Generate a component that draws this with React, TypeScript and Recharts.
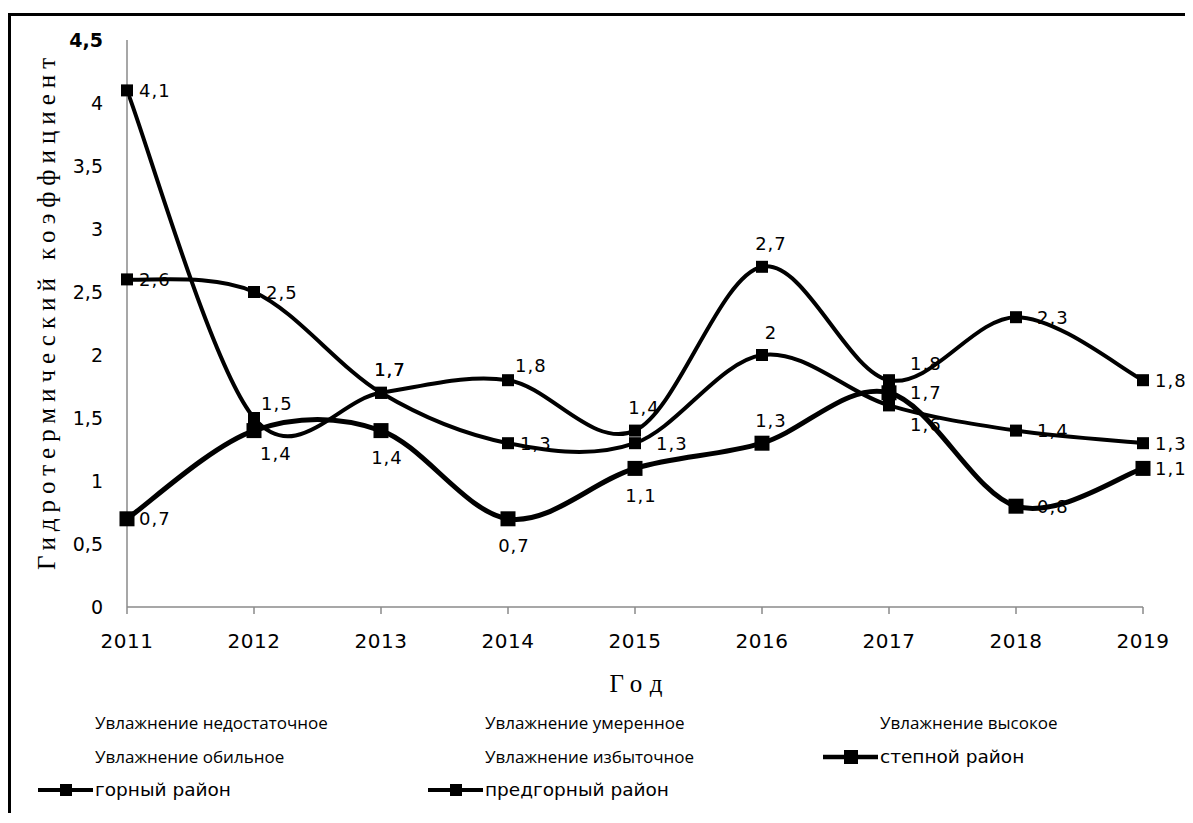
import React from 'react';
import { LineChart, Line, XAxis, YAxis, LabelList, Label } from 'recharts';

const years = ['2011', '2012', '2013', '2014', '2015', '2016', '2017', '2018', '2019'];
const gorny = [4.1, 1.5, 1.7, 1.8, 1.4, 2.7, 1.8, 2.3, 1.8];
const predgorny = [2.6, 2.5, 1.7, 1.3, 1.3, 2.0, 1.6, 1.4, 1.3];
const stepnoy = [0.7, 1.4, 1.4, 0.7, 1.1, 1.3, 1.7, 0.8, 1.1];
const yTicks = [0, 0.5, 1, 1.5, 2, 2.5, 3, 3.5, 4, 4.5];
const moistureNames = [
  'Увлажнение недостаточное',
  'Увлажнение умеренное',
  'Увлажнение высокое',
  'Увлажнение обильное',
  'Увлажнение избыточное',
];
const seriesNames = { stepnoy: 'степной район', gorny: 'горный район', predgorny: 'предгорный район' };
const yTitle = 'Гидротермический коэффициент';
const xTitle = 'Год';

// label placement keys (style only)
const gornyLabelPos = ['right', 'upRight', 'top', 'upRight', 'top', 'top', 'farUpRight', 'farRight', 'right'];
const predgornyLabelPos = ['right', 'right', 'top', 'right', 'farRight', 'top', 'farDownRight', 'farRight', 'right'];
const stepnoyLabelPos = ['right', 'downRight', 'bottom', 'bottom', 'bottom', 'top', 'farRight', 'farRight', 'right'];

const chartData = years.map((y, i) => ({ year: y, gorny: gorny[i], predgorny: predgorny[i], stepnoy: stepnoy[i] }));

const FONT = '"Open Sans", "Liberation Sans", sans-serif';
const WIDE = '"DejaVu Sans", "Open Sans", sans-serif';
const SERIF = '"Liberation Serif", "DejaVu Serif", serif';
const AXIS_GRAY = '#8a8a8a';

const placements: Record<string, { anchor: string; dx: number; dy: number }> = {
  right: { anchor: 'start', dx: 12, dy: 0 },
  farRight: { anchor: 'start', dx: 21, dy: 0 },
  upRight: { anchor: 'start', dx: 7, dy: -15 },
  farUpRight: { anchor: 'start', dx: 21, dy: -17 },
  downRight: { anchor: 'start', dx: 6, dy: 23 },
  farDownRight: { anchor: 'start', dx: 21, dy: 19 },
  top: { anchor: 'middle', dx: 9, dy: -23 },
  bottom: { anchor: 'middle', dx: 6, dy: 27 },
};

function excelSmooth(context: any) {
  let pts: number[][] = [];
  return {
    areaStart() {},
    areaEnd() {},
    lineStart() {
      pts = [];
    },
    point(x: number, y: number) {
      pts.push([+x, +y]);
    },
    lineEnd() {
      const n = pts.length;
      if (!n) return;
      context.moveTo(pts[0][0], pts[0][1]);
      if (n === 2) {
        context.lineTo(pts[1][0], pts[1][1]);
        return;
      }
      for (let i = 0; i < n - 1; i++) {
        const p0 = pts[Math.max(i - 1, 0)];
        const p1 = pts[i];
        const p2 = pts[i + 1];
        const p3 = pts[Math.min(i + 2, n - 1)];
        context.bezierCurveTo(
          p1[0] + (p2[0] - p0[0]) / 6,
          p1[1] + (p2[1] - p0[1]) / 6,
          p2[0] - (p3[0] - p1[0]) / 6,
          p2[1] - (p3[1] - p1[1]) / 6,
          p2[0],
          p2[1]
        );
      }
    },
  };
}

const fmt = (v: number) => String(v).replace('.', ',');

const makeLabel = (pos: string[]) => (props: any) => {
  const { x, y, value, index } = props;
  const p = placements[pos[index]] || placements.right;
  return (
    <text
      key={`l-${index}`}
      x={x + p.dx}
      y={y + p.dy}
      textAnchor={p.anchor as any}
      dominantBaseline="central"
      fontFamily={WIDE}
      fontSize={18}
      letterSpacing={1}
      fill="#000"
    >
      {fmt(value)}
    </text>
  );
};

const makeDot = (size: number) => (props: any) => {
  const { cx, cy, index } = props;
  return <rect key={`d-${index}`} x={cx - size / 2} y={cy - size / 2} width={size} height={size} fill="#000" />;
};

const YTick = (props: any) => {
  const { x, y, payload } = props;
  return (
    <text
      x={x}
      y={y}
      textAnchor="end"
      dominantBaseline="central"
      fontFamily={WIDE}
      fontSize={19}
      fontWeight={payload.value === 4.5 ? 700 : 400}
      fill="#000"
    >
      {fmt(payload.value)}
    </text>
  );
};

const series = [
  { key: 'predgorny', width: 4, marker: 12, pos: predgornyLabelPos },
  { key: 'gorny', width: 4, marker: 12, pos: gornyLabelPos },
  { key: 'stepnoy', width: 5, marker: 15, pos: stepnoyLabelPos },
];

const legendItems: { name: string; symbol: boolean; big: boolean }[] = [
  ...moistureNames.map((n) => ({ name: n, symbol: false, big: false })),
  { name: seriesNames.stepnoy, symbol: true, big: true },
  { name: seriesNames.gorny, symbol: true, big: false },
  { name: seriesNames.predgorny, symbol: true, big: false },
];

export default function App() {
  const W = 1185;
  const H = 805;
  const colX = [87, 477, 872];
  const rowY = [721, 755, 788];
  return (
    <div style={{ position: 'relative', width: W, height: H, overflow: 'hidden', background: '#fff' }}>
      <div
        style={{
          position: 'absolute',
          left: 0,
          top: 5,
          width: W + 20,
          height: H,
          borderTop: '3px solid #000',
          borderLeft: '3px solid #000',
          boxSizing: 'border-box',
        }}
      />
      <div style={{ position: 'absolute', left: 0, top: 0 }}>
        <LineChart width={W} height={H} data={chartData} margin={{ top: 32, right: 50, left: 59, bottom: 166 }}>
          <XAxis
            dataKey="year"
            height={40}
            stroke={AXIS_GRAY}
            strokeWidth={1.5}
            tickSize={7}
            tickMargin={20}
            tick={{ fill: '#000', fontFamily: WIDE, fontSize: 20, letterSpacing: 0.5 }}
            interval={0}
          >
            <Label
              content={() => (
                <text x={632} y={684} textAnchor="middle" fontFamily={SERIF} fontSize={25} letterSpacing={8} fill="#000">
                  {xTitle}
                </text>
              )}
            />
          </XAxis>
          <YAxis
            width={60}
            domain={[0, 4.5]}
            ticks={yTicks}
            interval={0}
            stroke={AXIS_GRAY}
            strokeWidth={1.5}
            tickLine={false}
            tickSize={0}
            tickMargin={24}
            tick={<YTick />}
          >
            <Label
              content={() => (
                <text
                  x={38}
                  y={303}
                  transform="rotate(-90 38 303)"
                  textAnchor="middle"
                  dominantBaseline="central"
                  fontFamily={SERIF}
                  fontSize={25}
                  letterSpacing={6}
                  fill="#000"
                >
                  {yTitle}
                </text>
              )}
            />
          </YAxis>
          {series.map((s) => (
            <Line
              key={s.key}
              dataKey={s.key}
              name={(seriesNames as any)[s.key]}
              type={excelSmooth as any}
              stroke="#000"
              strokeWidth={s.width}
              dot={makeDot(s.marker)}
              activeDot={false}
              isAnimationActive={false}
            >
              <LabelList dataKey={s.key} content={makeLabel(s.pos)} />
            </Line>
          ))}
        </LineChart>
      </div>
      <svg width={W} height={H} style={{ position: 'absolute', left: 0, top: 0, pointerEvents: 'none' }}>
        {legendItems.map((it, i) => {
          const cx = colX[i % 3];
          const by = rowY[Math.floor(i / 3)];
          const midY = by - 6;
          const m = it.big ? 14 : 12;
          return (
            <g key={it.name}>
              {it.symbol && (
                <g>
                  <line x1={cx - 57} x2={cx - 2} y1={midY} y2={midY} stroke="#000" strokeWidth={it.big ? 4.5 : 4} />
                  <rect x={cx - 29 - m / 2} y={midY - m / 2} width={m} height={m} fill="#000" />
                </g>
              )}
              <text
                x={cx}
                y={by}
                fontFamily={it.symbol ? WIDE : FONT}
                fontSize={it.symbol ? 18.5 : 17}
                fill="#000"
              >
                {it.name}
              </text>
            </g>
          );
        })}
      </svg>
    </div>
  );
}
